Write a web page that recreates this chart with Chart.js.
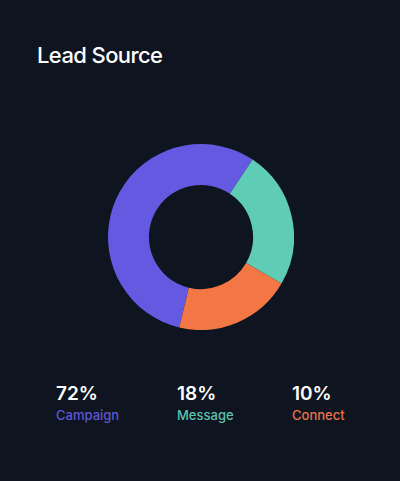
<!DOCTYPE html>
<html>
<head>
<meta charset="utf-8">
<script src="https://cdn.jsdelivr.net/npm/chart.js@4/dist/chart.umd.min.js"></script>
<style>
  html, body { margin: 0; padding: 0; }
  body { width: 400px; height: 481px; background: #0f1520; position: relative; overflow: hidden; font-family: Inter, "Noto Sans", sans-serif; }
  #title { position: absolute; left: 37px; top: 41px; color: #ffffff; font-size: 22px; font-weight: 500; line-height: 28px; letter-spacing: -0.6px; }
  #chartBox { position: absolute; left: 108px; top: 144px; width: 186px; height: 186px; }
  .item { position: absolute; top: 383px; }
  .pct { color: #ffffff; font-size: 19px; font-weight: 600; line-height: 22px; }
  .lbl { font-size: 13px; font-weight: 500; line-height: 18px; margin-top: 1px; }
</style>
</head>
<body>
<div id="title">Lead Source</div>
<div id="chartBox"><canvas id="c"></canvas></div>
<div id="legend"></div>
<script>
const categories = ["Campaign", "Message", "Connect"];
const shareValues = [55.6, 24.0, 20.4];
const percentLabels = ["72%", "18%", "10%"];
const colors = ["#6459e1", "#5fcdb6", "#f37645"];
const labelColors = ["#5f55d0", "#5cc4ad", "#e8724a"];
const legendX = [56, 177, 292];

const legend = document.getElementById("legend");
categories.forEach((cat, i) => {
  const d = document.createElement("div");
  d.className = "item";
  d.style.left = legendX[i] + "px";
  d.innerHTML = '<div class="pct">' + percentLabels[i] + '</div><div class="lbl" style="color:' + labelColors[i] + '">' + cat + '</div>';
  legend.appendChild(d);
});

new Chart(document.getElementById("c"), {
  type: "doughnut",
  data: {
    labels: categories,
    datasets: [{
      data: shareValues,
      backgroundColor: colors,
      borderWidth: 0,
      hoverOffset: 0
    }]
  },
  options: {
    responsive: true,
    maintainAspectRatio: false,
    animation: false,
    rotation: 193.5,
    cutout: "56%",
    layout: { padding: 0 },
    plugins: { legend: { display: false }, tooltip: { enabled: false } }
  }
});
</script>
</body>
</html>
